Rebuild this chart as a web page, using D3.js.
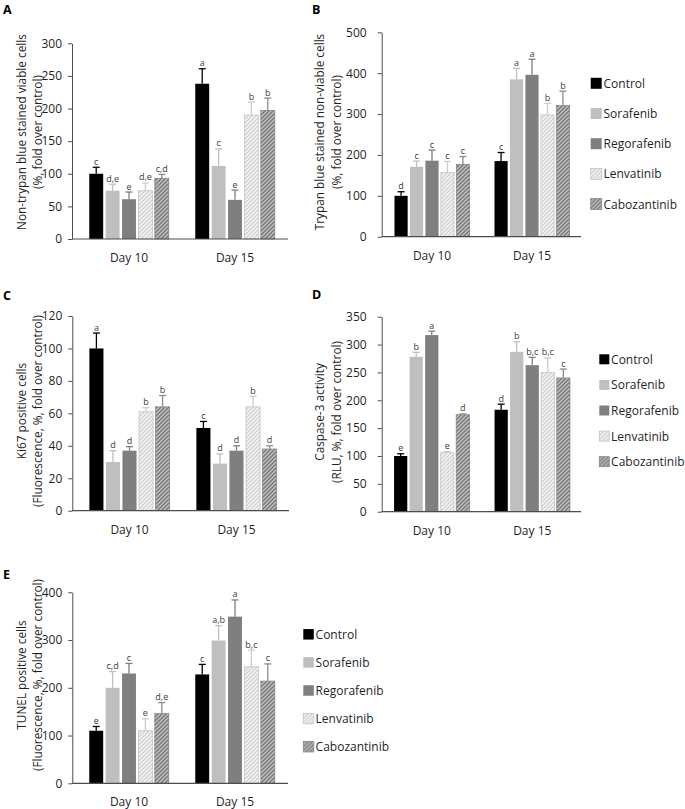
<!DOCTYPE html>
<html>
<head>
<meta charset="utf-8">
<script src="https://cdn.jsdelivr.net/npm/d3@7"></script>
<style>
  body { margin: 0; background: #fff; }
  svg { display: block; font-family: "Open Sans", sans-serif; }
</style>
</head>
<body>
<svg id="chart" width="685" height="809"></svg>
<script>
// Series and groups shared by all five panels
const series = ["Control", "Sorafenib", "Regorafenib", "Lenvatinib", "Cabozantinib"];
const days = ["Day 10", "Day 15"];

// A: non-trypan blue stained viable cells
const viableMean = [[100, 74, 61, 74, 93], [238, 112, 60, 190, 197]];
const viableErr = [[10, 10, 11, 12, 6], [23, 26, 15, 20, 19]];
const viableSig = [["c", "d,e", "e", "d,e", "c,d"], ["a", "c", "e", "b", "b"]];
const viableTicks = [0, 50, 100, 150, 200, 250, 300];

// B: trypan blue stained non-viable cells
const deadMean = [[100, 171, 186, 157, 177], [185, 385, 396, 298, 321]];
const deadErr = [[10, 14, 26, 27, 19], [21, 27, 38, 28, 35]];
const deadSig = [["d", "c", "c", "c", "c"], ["c", "a", "a", "b", "b"]];
const deadTicks = [0, 100, 200, 300, 400, 500];

// C: Ki67 positive cells
const ki67Mean = [[100, 30, 37, 61, 64], [51, 29, 37, 64, 38]];
const ki67Err = [[9.5, 7, 2.5, 2.5, 7], [4, 6, 3, 6.5, 2]];
const ki67Sig = [["a", "d", "d", "b", "b"], ["c", "d", "d", "b", "d"]];
const ki67Ticks = [0, 20, 40, 60, 80, 100, 120];

// D: caspase-3 activity
const caspMean = [[100, 278, 317, 106, 174], [183, 287, 263, 250, 240]];
const caspErr = [[4, 8, 7, 2, 1.5], [10, 18, 14, 26, 16]];
const caspSig = [["e", "b", "a", "e", "d"], ["d", "b", "b,c", "b,c", "c"]];
const caspTicks = [0, 50, 100, 150, 200, 250, 300, 350];

// E: TUNEL positive cells
const tunelMean = [[110, 200, 230, 110, 146], [228, 299, 349, 244, 214]];
const tunelErr = [[9, 34, 21, 25, 23], [21, 31, 35, 35, 36]];
const tunelSig = [["e", "c,d", "c", "e", "d,e"], ["c", "a,b", "a", "b,c", "c"]];
const tunelTicks = [0, 100, 200, 300, 400];

const FILLS = ["#000000", "#bfbfbf", "#7f7f7f", "url(#hatchLight)", "url(#hatchDark)"];
const STROKES = ["none", "none", "none", "#c4c4c4", "#858585"];
const ERR_COLORS = ["#000000", "#bfbfbf", "#7f7f7f", "#cccccc", "#8c8c8c"];
const TEXT_COLOR = "#1f1f1f";
const AXIS_COLOR = "#4d4d4d";

const svg = d3.select("#chart");
svg.append("rect").attr("width", 685).attr("height", 809).attr("fill", "#fff");

// diagonal hatch patterns for Lenvatinib / Cabozantinib
const defs = svg.append("defs");
function hatch(id, bg, fg) {
  const p = defs.append("pattern").attr("id", id)
    .attr("patternUnits", "userSpaceOnUse").attr("width", 4).attr("height", 4);
  p.append("rect").attr("width", 4).attr("height", 4).attr("fill", bg);
  p.append("path").attr("d", "M-1,1 l2,-2 M0,4 l4,-4 M3,5 l2,-2")
    .attr("stroke", fg).attr("stroke-width", 1.4);
}
hatch("hatchLight", "#f7f7f7", "#d0d0d0");
hatch("hatchDark", "#c2c2c2", "#777777");

const panels = [
  { letter: "A", mean: viableMean, err: viableErr, sig: viableSig, ticks: viableTicks,
    title: ["Non-trypan blue stained viable cells", "(%, fold over control)"],
    lx: 3, ly: 14, axisX: 72, axisEnd: 288, range: [76, 288], yTop: 43.3, yBottom: 239,
    pad: 6, titleX: [26, 42], titleY: 132, legend: null },
  { letter: "B", mean: deadMean, err: deadErr, sig: deadSig, ticks: deadTicks,
    title: ["Trypan blue stained non-viable cells", "(%, fold over control)"],
    lx: 312, ly: 14, axisX: 381.7, axisEnd: 581, range: [382, 582], yTop: 32.3, yBottom: 236.7,
    pad: 11, titleX: [324, 341], titleY: 132, legend: { x: 590.7, y: 83.3, step: 30.2, size: 11 } },
  { letter: "C", mean: ki67Mean, err: ki67Err, sig: ki67Sig, ticks: ki67Ticks,
    title: ["Ki67 positive cells", "(Fluorescence, %, fold over control)"],
    lx: 3, ly: 300, axisX: 72.3, axisEnd: 289, range: [76, 290], yTop: 316, yBottom: 510.7,
    pad: 6, titleX: [26, 42], titleY: 411, legend: null },
  { letter: "D", mean: caspMean, err: caspErr, sig: caspSig, ticks: caspTicks,
    title: ["Caspase-3 activity", "(RLU, %, fold over control)"],
    lx: 312, ly: 299, axisX: 381.7, axisEnd: 581, range: [381.5, 582.5], yTop: 316.7, yBottom: 511.7,
    pad: 11, titleX: [324, 341], titleY: 412, legend: { x: 599.3, y: 359.3, step: 25.6, size: 10 } },
  { letter: "E", mean: tunelMean, err: tunelErr, sig: tunelSig, ticks: tunelTicks,
    title: ["TUNEL positive cells", "(Fluorescence, %, fold over control)"],
    lx: 3, ly: 579, axisX: 72.3, axisEnd: 288, range: [76, 288], yTop: 592.3, yBottom: 783.3,
    pad: 6, titleX: [26, 42], titleY: 675, legend: { x: 303.3, y: 634.3, step: 28.1, size: 10.5 } }
];

panels.forEach(p => {
  const g = svg.append("g");
  const maxTick = p.ticks[p.ticks.length - 1];

  const y = d3.scaleLinear().domain([0, maxTick]).range([p.yBottom, p.yTop]);
  const x0 = d3.scaleBand().domain(days).range(p.range).paddingInner(0.25).paddingOuter(0.125);
  const x1 = d3.scaleBand().domain(series).range([0, x0.bandwidth()]).paddingInner(0.15);

  // panel letter
  g.append("text").attr("x", p.lx).attr("y", p.ly)
    .attr("font-size", 12.5).attr("font-weight", "bold").attr("fill", "#000").text(p.letter);

  // y axis
  const yAxis = g.append("g").attr("transform", `translate(${p.axisX},0)`)
    .call(d3.axisLeft(y).tickValues(p.ticks).tickSize(4).tickSizeOuter(0).tickPadding(p.pad));
  yAxis.selectAll("path, line").attr("stroke", AXIS_COLOR);
  yAxis.selectAll("text").attr("font-size", 12).attr("fill", TEXT_COLOR)
    .attr("font-family", "Open Sans, sans-serif");

  // axis title (two lines, rotated)
  p.title.forEach((t, i) => {
    g.append("text")
      .attr("transform", `translate(${p.titleX[i]},${p.titleY}) rotate(-90)`)
      .attr("text-anchor", "middle").attr("font-size", 11.8).attr("fill", TEXT_COLOR)
      .text(t);
  });

  // bars
  const rows = days.flatMap((d, di) => series.map((s, si) => ({
    day: d, s, si, v: p.mean[di][si], e: p.err[di][si], sig: p.sig[di][si]
  })));

  g.selectAll(".bar").data(rows).enter().append("rect")
    .attr("class", "bar")
    .attr("x", d => x0(d.day) + x1(d.s))
    .attr("y", d => y(d.v))
    .attr("width", x1.bandwidth())
    .attr("height", d => y(0) - y(d.v))
    .attr("fill", d => FILLS[d.si])
    .attr("stroke", d => STROKES[d.si])
    .attr("stroke-width", 0.8);

  // x baseline
  g.append("line").attr("x1", p.axisX).attr("x2", p.axisEnd)
    .attr("y1", y(0)).attr("y2", y(0)).attr("stroke", AXIS_COLOR).attr("stroke-width", 1.2);

  // error bars (upper whisker only)
  const cx = d => x0(d.day) + x1(d.s) + x1.bandwidth() / 2;
  const eb = g.selectAll(".err").data(rows).enter().append("g").attr("class", "err")
    .attr("stroke", d => ERR_COLORS[d.si]).attr("stroke-width", 1.3);
  eb.append("line").attr("x1", cx).attr("x2", cx)
    .attr("y1", d => y(d.v)).attr("y2", d => y(d.v + d.e));
  eb.append("line").attr("x1", d => cx(d) - 3.5).attr("x2", d => cx(d) + 3.5)
    .attr("y1", d => y(d.v + d.e)).attr("y2", d => y(d.v + d.e));

  // significance letters
  g.selectAll(".sig").data(rows).enter().append("text")
    .attr("x", cx).attr("y", d => y(d.v + d.e) - 2.5)
    .attr("text-anchor", "middle").attr("font-size", 9).attr("fill", "#3a3a3a")
    .text(d => d.sig);

  // category labels
  g.selectAll(".day").data(days).enter().append("text")
    .attr("x", d => x0(d) + x0.bandwidth() / 2).attr("y", y(0) + 23)
    .attr("text-anchor", "middle").attr("font-size", 12).attr("fill", TEXT_COLOR)
    .text(d => d);

  // legend
  if (p.legend) {
    const L = p.legend;
    const li = g.selectAll(".leg").data(series).enter().append("g")
      .attr("transform", (d, i) => `translate(${L.x},${L.y + i * L.step})`);
    li.append("rect").attr("x", 0).attr("y", -L.size / 2)
      .attr("width", L.size).attr("height", L.size)
      .attr("fill", (d, i) => FILLS[i]).attr("stroke", (d, i) => STROKES[i]).attr("stroke-width", 0.8);
    li.append("text").attr("x", L.size + 1.8).attr("y", 4.4)
      .attr("font-size", 12).attr("fill", TEXT_COLOR).text(d => d);
  }
});
</script>
</body>
</html>
